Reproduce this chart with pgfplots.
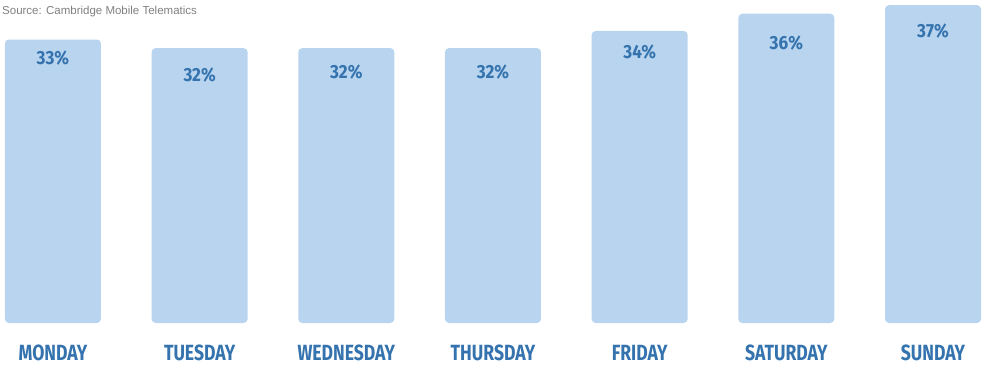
\documentclass[border=0pt]{standalone}
\usepackage{pgfplots}
\pgfplotsset{compat=1.18}
\usepackage{pgfplotstable}
\usepackage{fontspec}
\setmainfont{Liberation Sans}
\newfontfamily\cond[FakeStretch=0.8]{Fira Sans}
\newfontfamily\condb[FakeStretch=0.9]{Fira Sans}
\definecolor{barblue}{HTML}{B8D4EF}
\definecolor{txtblue}{HTML}{3473AE}
\definecolor{srcgray}{HTML}{808080}
\pgfplotstableread{
x y off
0 33 18.5
1 32 27
2 32 24
3 32 24
4 34 21
5 36 29
6 37 26
}\mydata
\begin{document}
\begin{tikzpicture}
\begin{axis}[
  scale only axis,
  width=982pt, height=323pt,
  xmin=-0.361, xmax=6.334,
  ymin=0, ymax=37.6,
  axis x line*=bottom,
  axis y line=none,
  x axis line style={draw=none},
  major tick length=0pt,
  xtick={0,1,2,3,4,5,6},
  xticklabels={MONDAY,TUESDAY,WEDNESDAY,THURSDAY,FRIDAY,SATURDAY,SUNDAY},
  xticklabel style={anchor=base, yshift=-37pt, inner sep=0pt, text=txtblue,
    font=\cond\bfseries\fontsize{22}{22}\selectfont},
  ybar, bar width=96pt,
  clip=false,
]
\addplot[fill=barblue, draw=none, rounded corners=4pt,
  visualization depends on={\thisrow{off} \as \off},
  nodes near coords={\pgfmathprintnumber[fixed,precision=0,assume math mode=true]{\pgfplotspointmeta}\%},
  every node near coord/.append style={anchor=center, yshift=-\off, inner sep=0pt,
    text=txtblue, font=\condb\bfseries\fontsize{19}{19}\selectfont},
] table[x=x, y=y] {\mydata};
\node[anchor=base west, inner sep=0pt, text=srcgray, font=\fontsize{11.5}{11.5}\selectfont]
  at ([xshift=2pt, yshift=-14pt]rel axis cs:0,1) {Source: Cambridge Mobile Telematics};
\path (rel axis cs:0,0) ++(0pt,-42pt) coordinate (bb);
\path (bb) rectangle (rel axis cs:1,1);
\end{axis}
\end{tikzpicture}
\end{document}
